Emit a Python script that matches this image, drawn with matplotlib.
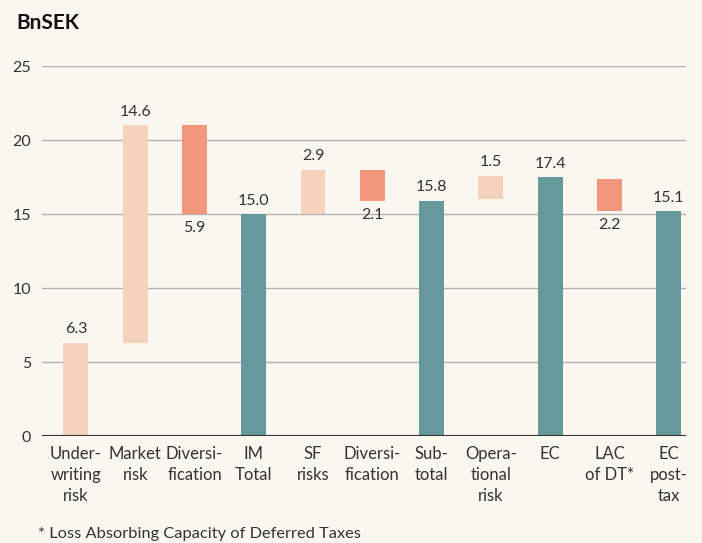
import matplotlib.pyplot as plt

# waterfall data (bar start / end)
categories = ['Under-\nwriting\nrisk', 'Market\nrisk', 'Diversi-\nfication', 'IM\nTotal',
              'SF\nrisks', 'Diversi-\nfication', 'Sub-\ntotal', 'Opera-\ntional\nrisk',
              'EC', 'LAC\nof DT*', 'EC\npost-\ntax']
starts = [0, 6.3, 21.0, 0, 15.0, 18.0, 0, 16.0, 0, 17.4, 0]
ends = [6.3, 21.0, 15.0, 15.0, 18.0, 15.9, 15.9, 17.6, 17.5, 15.2, 15.2]
labels = ['6.3', '14.6', '5.9', '15.0', '2.9', '2.1', '15.8', '1.5', '17.4', '2.2', '15.1']
kinds = ['up', 'up', 'down', 'total', 'up', 'down', 'total', 'up', 'total', 'down', 'total']

colors = {'up': '#F5D2BB', 'down': '#F2967C', 'total': '#66999C'}
bg = '#FAF7F1'

plt.rcParams['font.family'] = ['Lato', 'DejaVu Sans']

fig = plt.figure(figsize=(7.02, 5.43), dpi=100, facecolor=bg)
ax = fig.add_axes([0.06, 0.197, 0.917, 0.681], facecolor=bg)

x = list(range(len(categories)))
for i in x:
    lo = min(starts[i], ends[i])
    hi = max(starts[i], ends[i])
    ax.bar(i, hi - lo, bottom=lo, width=0.42, color=colors[kinds[i]], zorder=3)
    if kinds[i] == 'down':
        ax.text(i, lo - 0.45, labels[i], ha='center', va='top', fontsize=11.5, color='#333333')
    else:
        ax.text(i, hi + 0.45, labels[i], ha='center', va='bottom', fontsize=11.5, color='#333333')

ax.set_xlim(-0.57, 10.29)
ax.set_ylim(0, 25)
ax.set_yticks([0, 5, 10, 15, 20, 25])
for yv in [5, 10, 15, 20, 25]:
    ax.axhline(yv, color='#B5B3B0', lw=1, zorder=1)
ax.axhline(0, color='#333333', lw=1.5, zorder=4)

ax.set_xticks(x)
ax.set_xticklabels(categories, fontsize=12, color='#333333', linespacing=1.4, va='top')
ax.tick_params(axis='x', length=0, pad=7)
ax.tick_params(axis='y', length=0, pad=8, labelsize=11.5, labelcolor='#333333')
for s in ax.spines.values():
    s.set_visible(False)

fig.text(0.024, 0.958, 'BnSEK', fontsize=15, fontweight='bold', color='#111111', va='center')
fig.text(0.054, 0.004, '* Loss Absorbing Capacity of Deferred Taxes', fontsize=11.8,
         color='#333333', va='bottom')

fig.savefig('out.png', dpi=100, facecolor=bg)
